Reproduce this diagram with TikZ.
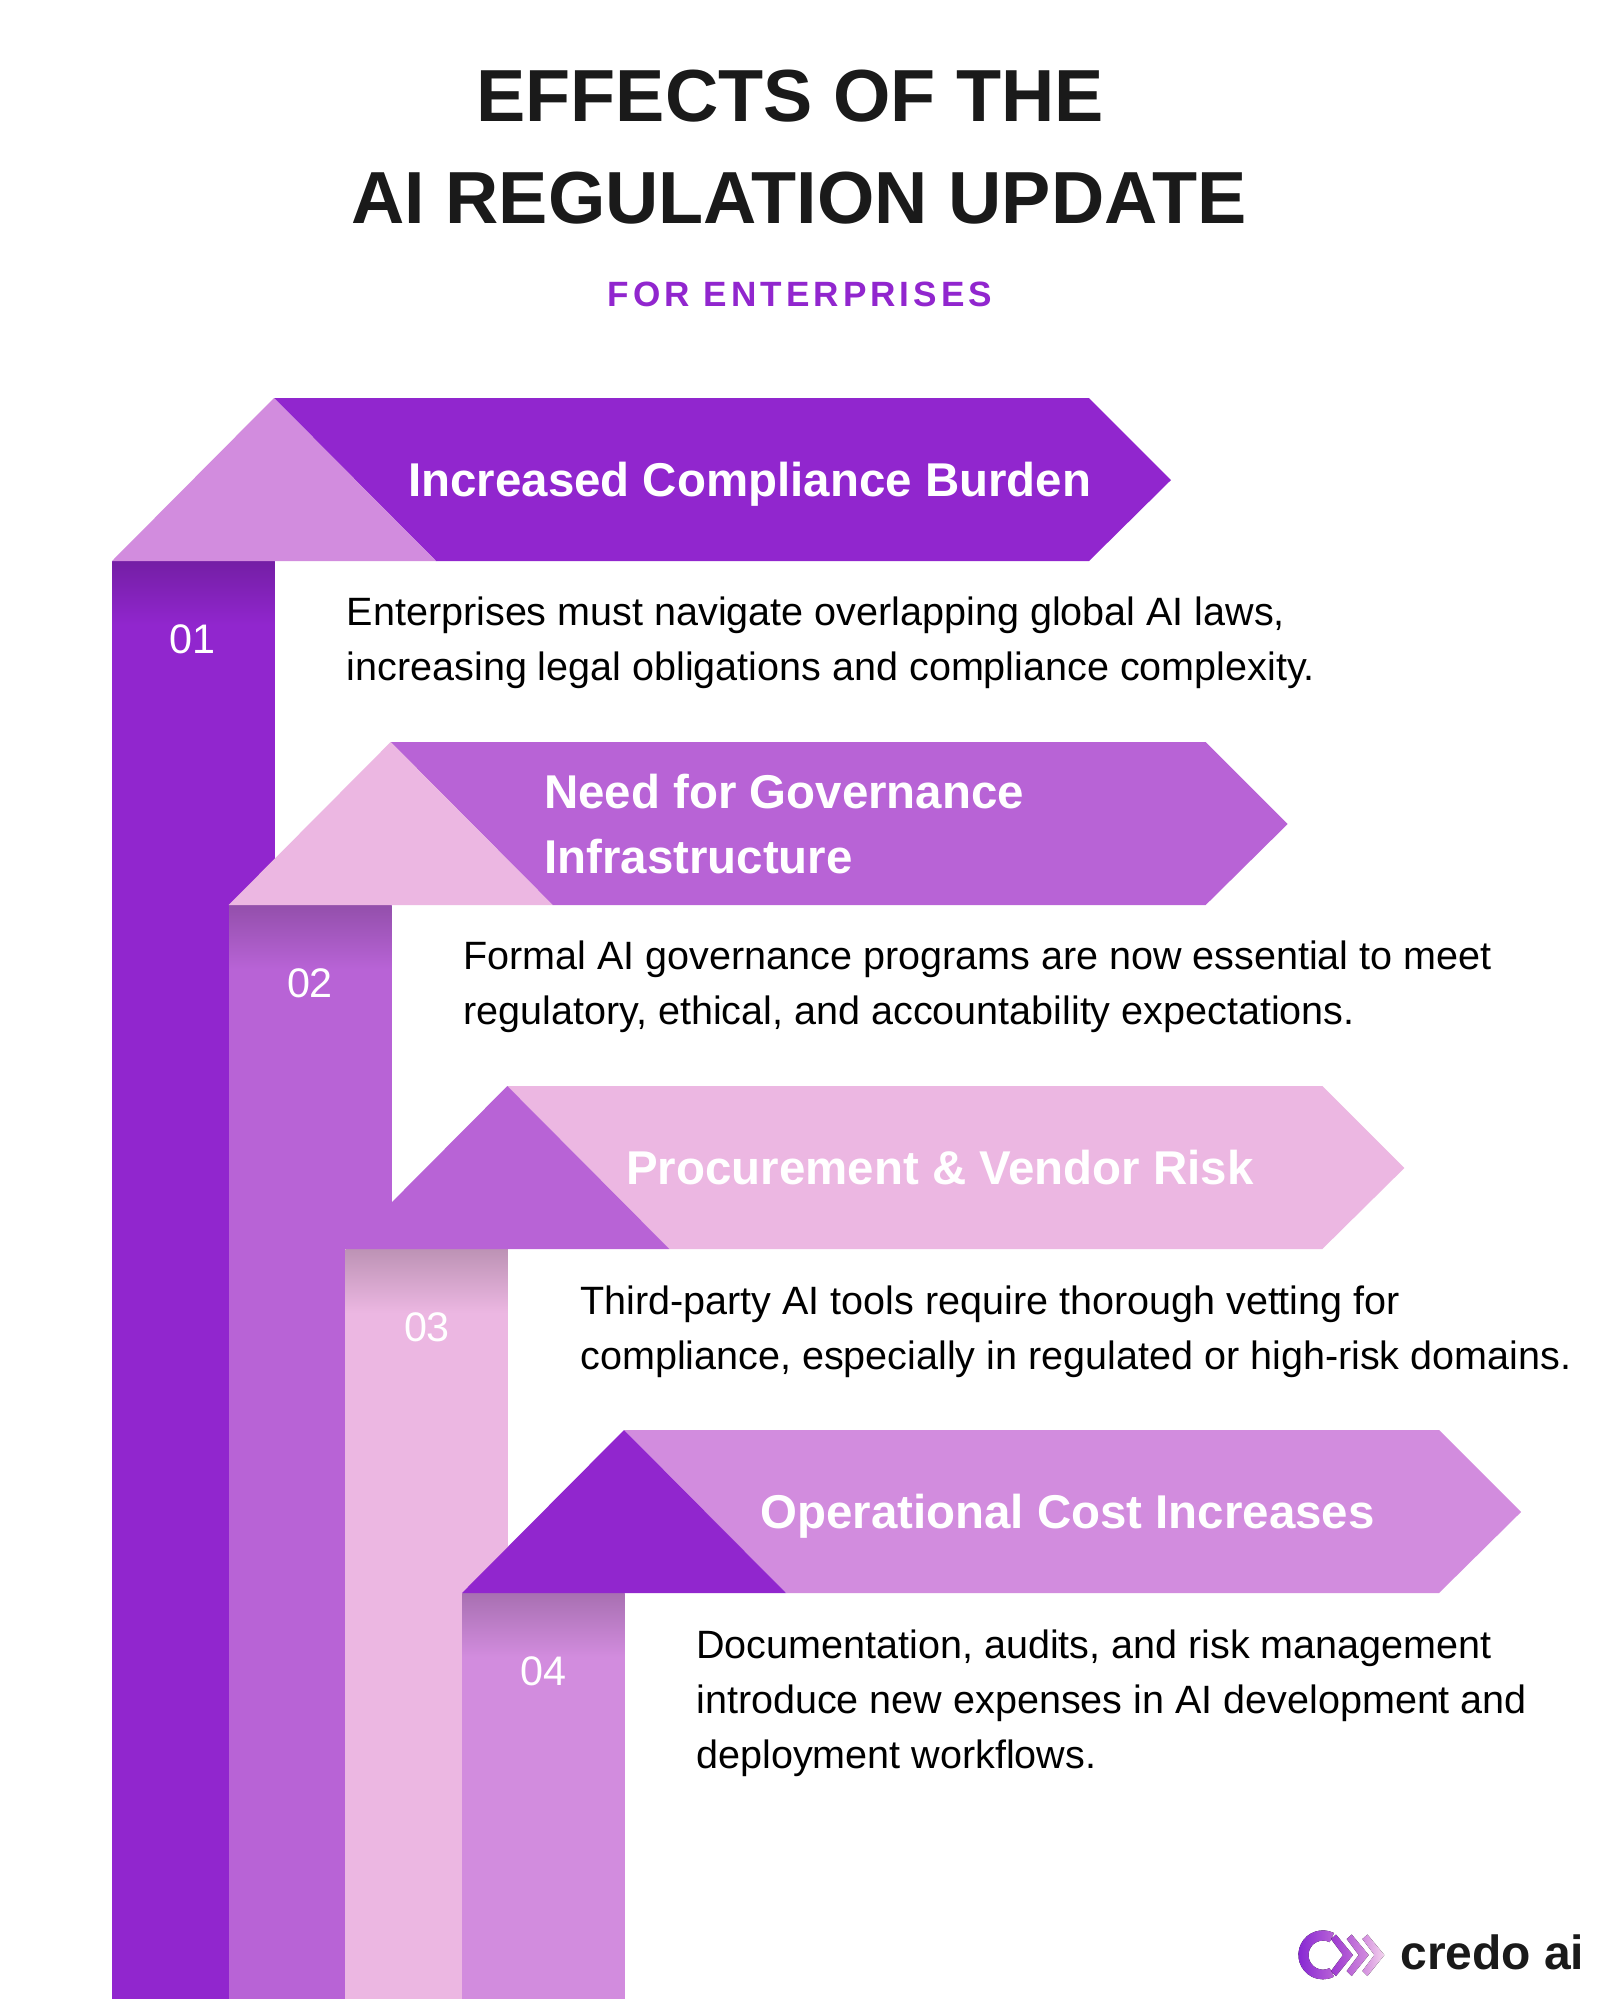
\documentclass[tikz,border=0pt]{standalone}
\usepackage{fontspec}
\setmainfont{Liberation Sans}
\newfontfamily\spacedfont[LetterSpace=11.5]{Liberation Sans}
\usepackage{tikz}
\definecolor{plumA}{HTML}{9126CE}
\definecolor{plumB}{HTML}{B863D6}
\definecolor{plumC}{HTML}{ECB7E2}
\definecolor{plumD}{HTML}{D28CDE}
\definecolor{inkdark}{HTML}{1A1A1A}
\tikzset{
  titletext/.style={inner sep=0,anchor=base,text=inkdark,font=\fontsize{42}{50}\selectfont\bfseries},
  subtext/.style={inner sep=0,anchor=base,text=plumA,font=\fontsize{20}{24}\selectfont\spacedfont\bfseries},
  headtext/.style={inner sep=0,anchor=base west,text=white,font=\fontsize{27}{37}\selectfont\bfseries},
  bodytext/.style={inner sep=0,anchor=base west,text=black,font=\fontsize{22.5}{31.3}\selectfont},
  numtext/.style={inner sep=0,anchor=base,text=white,font=\fontsize{23.5}{28}\selectfont},
}
\begin{document}
\begin{tikzpicture}[x=0.02cm,y=-0.02cm]
\useasboundingbox (0,0) rectangle (1599,1999);
\fill[white] (0,0) rectangle (1599,1999);

% Title
\node[titletext] (title1) at (790,121) {EFFECTS OF THE};
\node[titletext] (title2) at (799,223) {AI REGULATION UPDATE};
\node[subtext] (subtitle) at (800,306) {FOR ENTERPRISES};

% Steps: columns, folds and banners
\foreach \n/\col/\fold in {0/plumA/plumD,1/plumB/plumC,2/plumC/plumB,3/plumD/plumA}{
  \begin{scope}[shift={(\n*116.67,\n*344)}]
    \fill[\col] (112,561) rectangle (275,1999);
    \shade[top color=\col!80!black,bottom color=\col] (112.4,561) rectangle (274.6,625);
    \fill[\col] (274,398) -- (1089,398) -- (1171,480) -- (1089,561) -- (436,561) -- cycle;
    \fill[\fold] (112,561) -- (274,398) -- (436,561) -- cycle;
  \end{scope}
}

% Numbers
\node[numtext] (num1) at (192.5,653) {01};
\node[numtext] (num2) at (310,997) {02};
\node[numtext] (num3) at (427,1341) {03};
\node[numtext] (num4) at (543.5,1685) {04};

% Banner headings
\node[headtext] (head1) at (408,496.5) {Increased Compliance Burden};
\node[headtext,align=left] (head2) at (544,873) {Need for Governance\\Infrastructure};
\node[headtext] (head3) at (626,1184.5) {Procurement \& Vendor Risk};
\node[headtext] (head4) at (760,1528.5) {Operational Cost Increases};

% Descriptions
\node[bodytext,align=left] (body1) at (346.5,680.3) {Enterprises must navigate overlapping global AI laws,\\increasing legal obligations and compliance complexity.};
\node[bodytext,align=left] (body2) at (463,1024.3) {Formal AI governance programs are now essential to meet\\regulatory, ethical, and accountability expectations.};
\node[bodytext,align=left] (body3) at (580,1369) {Third-party AI tools require thorough vetting for\\compliance, especially in regulated or high-risk domains.};
\node[bodytext,align=left] (body4) at (696,1768.5) {Documentation, audits, and risk management\\introduce new expenses in AI development and\\deployment workflows.};

% Logo
\fill[left color=plumA!90!blue,right color=plumB]
  (1334,1933) arc (-63:-297:24.5) -- (1329.6,1968) arc (-297:-63:14.5) -- cycle;
\foreach \s/\ca/\cb in {0/plumA!70!plumB/plumB,15.7/plumB/plumD,31.4/plumD/plumC!60!white}
  \fill[left color=\ca,right color=\cb,shift={(\s,0)}]
    (1336,1934.5) -- (1353,1955) -- (1336,1976) -- (1331,1971) -- (1343,1955) -- (1331,1939) -- cycle;
\node[inner sep=0,anchor=base west,text=inkdark,font=\fontsize{27.3}{30}\selectfont\bfseries] (logotext) at (1400,1969) {credo ai};
\end{tikzpicture}
\end{document}
